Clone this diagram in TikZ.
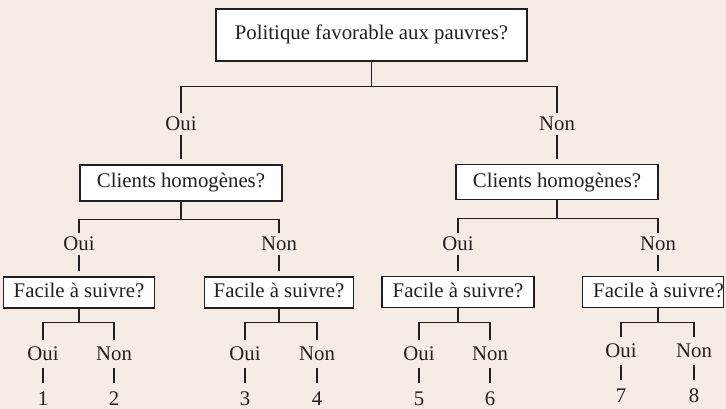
\documentclass[tikz,border=0pt]{standalone}
\usepackage{fontspec}
\setmainfont{Liberation Serif}
\definecolor{bgc}{RGB}{245,236,230}
\definecolor{ink}{RGB}{35,31,32}
\tikzset{
  qbox/.style={draw=ink,fill=white,line width=1.3pt,inner sep=0pt,
    text height=14.5pt,text depth=4.5pt},
  ans/.style={inner xsep=0pt,inner ysep=4pt,text height=13.8pt,text depth=0pt},
  leafans/.style={ans,inner ysep=7pt},
  leafnum/.style={inner xsep=0pt,inner ysep=8pt,text height=14pt,text depth=0pt},
  link/.style={draw=ink,line width=1.2pt}
}
\begin{document}
\begin{tikzpicture}[x=1pt,y=-1pt,font=\fontsize{20.8}{24}\selectfont,text=ink,line cap=butt]
  \fill[bgc] (0,0) rectangle (726,409);
  \useasboundingbox (0,0) rectangle (726,409);
  % question boxes
  \node[qbox,minimum width=311pt,minimum height=52pt] (top) at (371.5,35) {Politique favorable aux pauvres?};
  \node[qbox,minimum width=202pt,minimum height=36pt] (cliL) at (181,183) {Clients homog\`enes?};
  \node[qbox,minimum width=202pt,minimum height=35pt] (cliR) at (557,182) {Clients homog\`enes?};
  \node[qbox,minimum width=151pt,minimum height=31pt] (F1) at (79,292.5) {Facile \`a suivre?};
  \node[qbox,minimum width=149pt,minimum height=31pt] (F2) at (279,292.5) {Facile \`a suivre?};
  \node[qbox,minimum width=152pt,minimum height=31pt] (F3) at (458,292) {Facile \`a suivre?};
  \node[qbox,minimum width=140pt,minimum height=31pt] (F4) at (653,292) {\hspace*{11pt}Facile \`a suivre?};
  % answers
  \node[ans] (oui1) at (181,124) {Oui};
  \node[ans] (non1) at (557,124) {Non};
  \node[ans] (oui2) at (79,244) {Oui};
  \node[ans] (non2) at (279,244) {Non};
  \node[ans] (oui3) at (458,244) {Oui};
  \node[ans] (non3) at (658,244) {Non};
  % level 1
  \draw[link] (top.south) -- ++(0,25) coordinate (j0);
  \draw[link] (oui1.north) |- (j0) -| (non1.north);
  \draw[link,shorten >=5pt] (oui1.south) -- (cliL.north);
  \draw[link,shorten >=5pt] (non1.south) -- (cliR.north);
  % level 2
  \draw[link] (cliL.south) -- ++(0,18) coordinate (j1);
  \draw[link] (oui2.north) |- (j1) -| (non2.north);
  \draw[link] (cliR.south) -- ++(0,18) coordinate (j2);
  \draw[link] (oui3.north) |- (j2) -| (non3.north);
  \draw[link,shorten >=5pt] (oui2.south) -- (F1.north);
  \draw[link,shorten >=5pt] (non2.south) -- (F2.north);
  \draw[link,shorten >=5pt] (oui3.south) -- (F3.north);
  \draw[link,shorten >=5pt] (non3.south) -- (non3 |- F4.north);
  % level 3
  \foreach \i/\xc/\xo/\xn/\yl/\a/\b in {1/79/43/114/353.7/1/2,2/279/245/317/353.7/3/4,
      3/458/419/490/353.7/5/6,4/658/621/694/351/7/8}{
    \node[leafans] (o\i) at (\xo,\yl) {Oui};
    \node[leafans] (n\i) at (\xn,\yl) {Non};
    \node[leafnum,anchor=north,yshift=-15pt] (r\a) at (o\i.south) {\a};
    \node[leafnum,anchor=north,yshift=-15pt] (r\b) at (n\i.south) {\b};
    \draw[link] (\xc,0 |- F\i.south) -- ++(0,14) coordinate (k\i);
    \draw[link] (o\i.north) |- (k\i) -| (n\i.north);
    \draw[link] (o\i.south) -- (r\a.north);
    \draw[link] (n\i.south) -- (r\b.north);
  }
\end{tikzpicture}
\end{document}
